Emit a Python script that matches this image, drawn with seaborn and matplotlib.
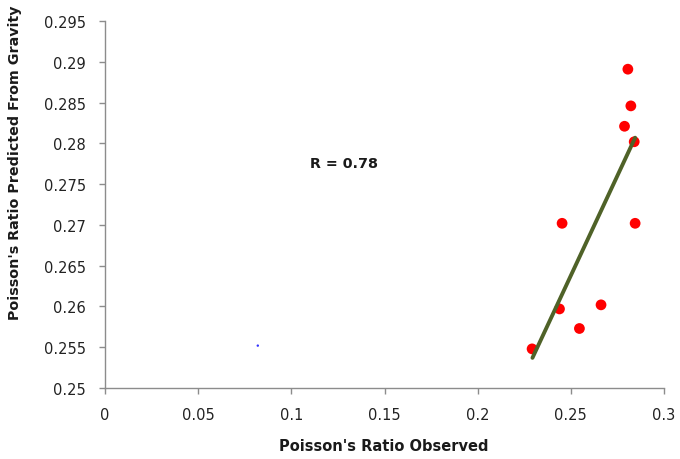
import matplotlib
matplotlib.use("Agg")
import matplotlib.pyplot as plt
import seaborn as sns
import pandas as pd

# Data
observed = [0.2806, 0.2822, 0.2788, 0.2840, 0.2453, 0.2845, 0.2662, 0.2439, 0.2546, 0.2292]
predicted = [0.2891, 0.2846, 0.2821, 0.2802, 0.2702, 0.2702, 0.2602, 0.2597, 0.2573, 0.2548]
fit_x = [0.2294, 0.2845]
fit_y = [0.2537, 0.2807]
stray_x = [0.082]
stray_y = [0.2552]
r_text = "R = 0.78"
x_ticks = [0, 0.05, 0.1, 0.15, 0.2, 0.25, 0.3]
x_tick_labels = ["0", "0.05", "0.1", "0.15", "0.2", "0.25", "0.3"]
y_ticks = [0.25, 0.255, 0.26, 0.265, 0.27, 0.275, 0.28, 0.285, 0.29, 0.295]
y_tick_labels = ["0.25", "0.255", "0.26", "0.265", "0.27", "0.275", "0.28", "0.285", "0.29", "0.295"]

sns.set_style("white")
plt.rcParams["font.family"] = ["DejaVu Sans"]

fig = plt.figure(figsize=(6.8, 4.6), dpi=100)
ax = fig.add_axes([0.1544, 0.1543, 0.8221, 0.7977])

pts = pd.DataFrame({"obs": observed, "pred": predicted})
fit = pd.DataFrame({"x": fit_x, "y": fit_y})
stray = pd.DataFrame({"x": stray_x, "y": stray_y})

sns.lineplot(data=fit, x="x", y="y", ax=ax, color="#4F6228", linewidth=2.8, zorder=3)
sns.scatterplot(data=pts, x="obs", y="pred", ax=ax, color="#FF0000", s=60,
                edgecolor="none", zorder=2)
sns.scatterplot(data=stray, x="x", y="y", ax=ax, color="#3333FF", s=3,
                edgecolor="none", zorder=2)

ax.text(0.1285, 0.2776, r_text, fontsize=10.3, fontweight="bold", ha="center", va="center",
        color="#1a1a1a")

ax.set_xlim(0, 0.3)
ax.set_ylim(0.25, 0.295)
ax.set_xticks(x_ticks)
ax.set_xticklabels(x_tick_labels)
ax.set_yticks(y_ticks)
ax.set_yticklabels(y_tick_labels)

for side in ["top", "right"]:
    ax.spines[side].set_visible(False)
for side in ["left", "bottom"]:
    ax.spines[side].set_color("#8c8c8c")
    ax.spines[side].set_linewidth(1.0)

ax.tick_params(axis="both", which="major", direction="out", length=4.5, width=1,
               color="#8c8c8c", labelsize=10.5, labelcolor="#222222",
               bottom=True, left=True)
ax.tick_params(axis="y", pad=9)
ax.tick_params(axis="x", pad=9)

ax.set_xlabel("Poisson's Ratio Observed", fontsize=10.5, fontweight="bold",
              color="#1a1a1a", va="center")
ax.set_ylabel("Poisson's Ratio Predicted From Gravity", fontsize=10.3, fontweight="bold",
              color="#1a1a1a", va="center")
ax.xaxis.set_label_coords(0.498, -0.158)
ax.yaxis.set_label_coords(-0.161, 0.616)

fig.savefig("out.png", dpi=100, facecolor="white")
